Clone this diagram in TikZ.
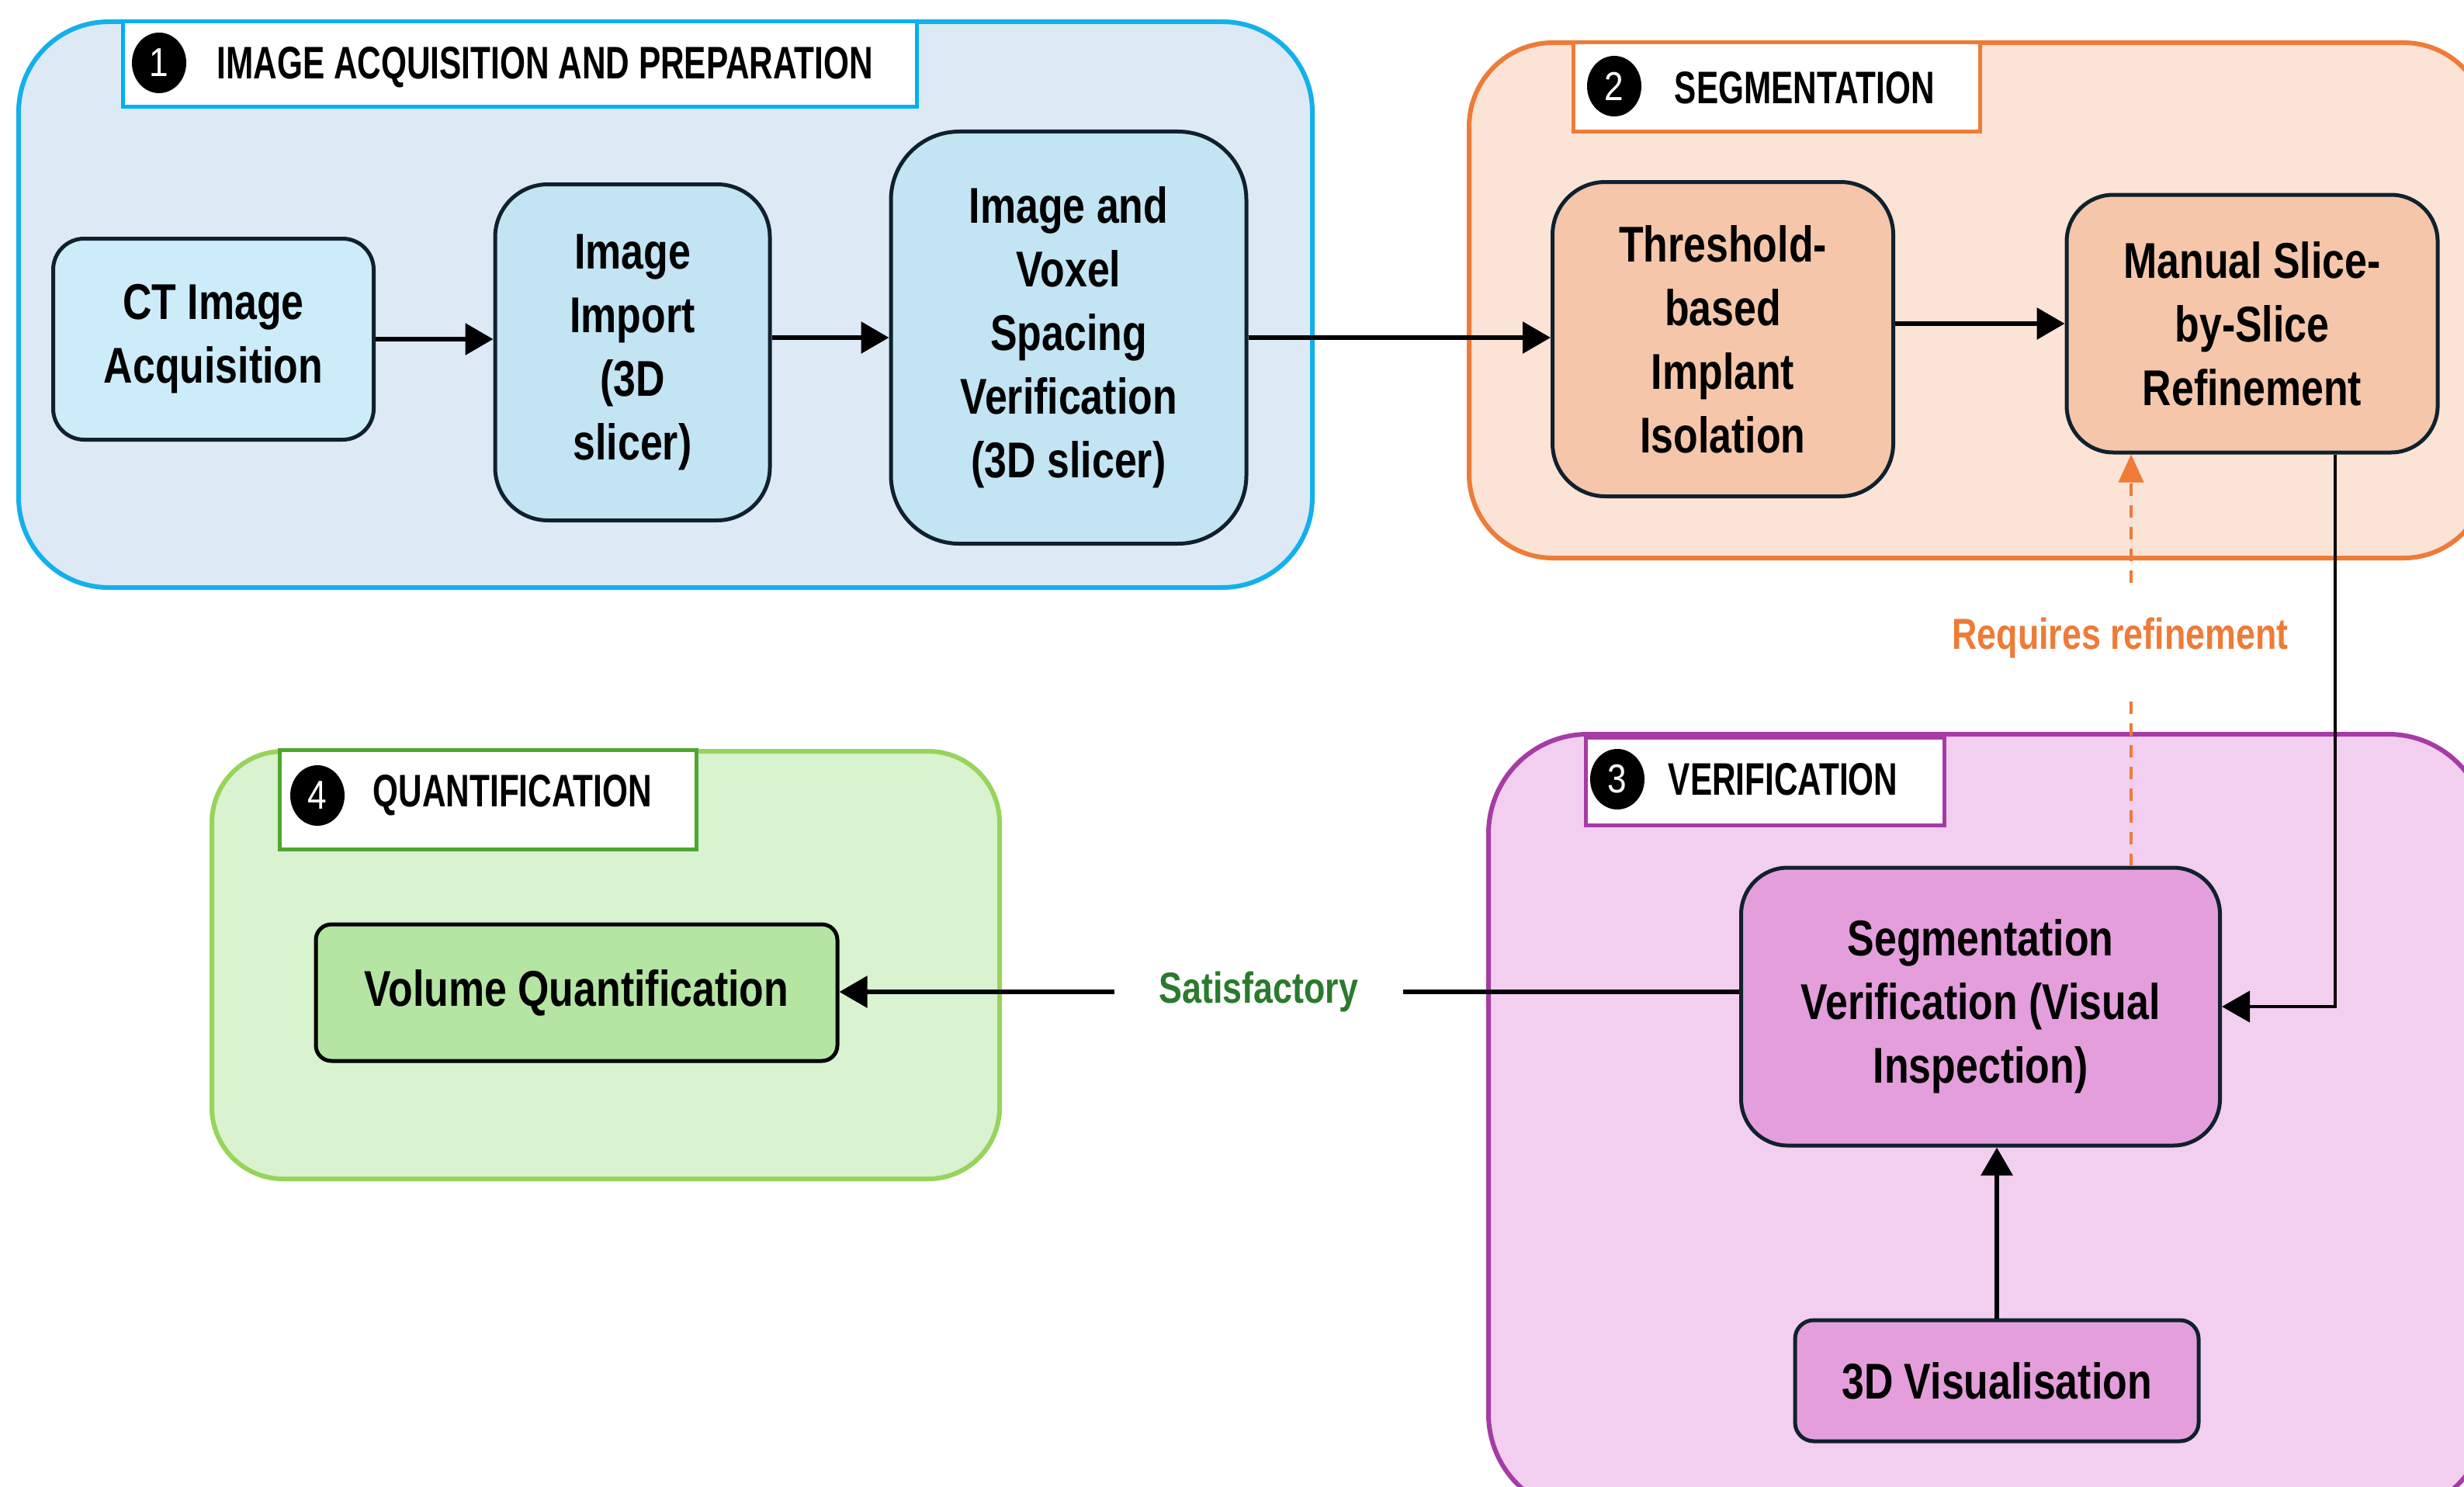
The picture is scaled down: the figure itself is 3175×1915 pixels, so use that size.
\documentclass[tikz,border=0pt]{standalone}
\usepackage{fontspec}
\setmainfont{Liberation Sans}
\newfontfamily\nodefont[FakeStretch=0.80]{Liberation Sans}
\newfontfamily\titlefont[FakeStretch=0.72]{Liberation Sans}
\newfontfamily\numfont[FakeStretch=0.85]{Liberation Sans}
\usetikzlibrary{arrows.meta,shapes.geometric}
\definecolor{gOneFill}{HTML}{DDEAF6}
\definecolor{gOneLine}{HTML}{13B0EC}
\definecolor{tOneLine}{HTML}{00B0F0}
\definecolor{ctFill}{HTML}{CCECFA}
\definecolor{blueFill}{HTML}{C2E4F3}
\definecolor{nodeLine}{HTML}{10212E}
\definecolor{gTwoFill}{HTML}{FBE3D6}
\definecolor{gTwoLine}{HTML}{EE7B37}
\definecolor{orFill}{HTML}{F5C6AA}
\definecolor{gThreeFill}{HTML}{F2CFEE}
\definecolor{gThreeLine}{HTML}{A63BA6}
\definecolor{puFill}{HTML}{E49EDC}
\definecolor{gFourFill}{HTML}{D9F2D0}
\definecolor{gFourLine}{HTML}{97D45A}
\definecolor{tFourLine}{HTML}{4EA72E}
\definecolor{grFill}{HTML}{B4E5A2}
\definecolor{reqCol}{HTML}{EE7B37}
\definecolor{satCol}{HTML}{2A7A2E}
\tikzset{
  group/.style={line width=1.5pt},
  titlebox/.style={line width=1.25pt, fill=white},
  numcirc/.style={ellipse, fill=black, minimum width=17.5pt, minimum height=19.5pt, inner sep=0pt,
     text=white, font=\numfont\fontsize{13pt}{13pt}\selectfont},
  titletext/.style={anchor=west, inner sep=0pt, font=\titlefont\bfseries\fontsize{14.7pt}{16pt}\selectfont},
  proc/.style={draw=nodeLine, line width=1.25pt, align=center, inner sep=0pt,
     font=\nodefont\bfseries\fontsize{16.2pt}{20.5pt}\selectfont},
  flow/.style={line width=1.5pt, -{Triangle[length=9pt,width=10pt]}},
  thin flow/.style={line width=1pt, -{Triangle[length=9pt,width=10pt]}},
  lbl/.style={inner sep=0pt, font=\nodefont\bfseries\fontsize{14pt}{16pt}\selectfont},
}
\begin{document}
\begin{tikzpicture}[x=0.25pt,y=-0.25pt]
\clip (0,0) rectangle (3175,1915);
\fill[white] (0,0) rectangle (3175,1915);

% groups
\draw[group, draw=gOneLine, fill=gOneFill, rounded corners=29pt] (24,28) rectangle (1691,757);
\draw[group, draw=gTwoLine, fill=gTwoFill, rounded corners=27pt] (1893,55) rectangle (3205,719);
\draw[group, draw=gThreeLine, fill=gThreeFill, rounded corners=32pt] (1918,946) rectangle (3205,1950);
\draw[group, draw=gFourLine, fill=gFourFill, rounded corners=23pt] (273,968) rectangle (1288,1519);

% title boxes
\draw[titlebox, draw=tOneLine] (158,28) rectangle (1181,138);
\node[numcirc] (c1) at (205,81) {1};
\node[titletext] (t1) at (279,87) {IMAGE ACQUISITION AND PREPARATION};

\draw[titlebox, draw=gTwoLine] (2027,55) rectangle (2551,170);
\node[numcirc] (c2) at (2080,111) {2};
\node[titletext] (t2) at (2157,113) {SEGMENTATION};

\draw[titlebox, draw=gThreeLine] (2043,950) rectangle (2505,1063);
\node[numcirc] (c3) at (2084,1004) {3};
\node[titletext] (t3) at (2149,1004) {VERIFICATION};

\draw[titlebox, draw=tFourLine] (360,966) rectangle (897,1094);
\node[numcirc] (c4) at (409,1025) {4};
\node[titletext] (t4) at (480,1025) {QUANTIFICATION};

% process nodes
\node[proc, fill=ctFill, rounded corners=10pt, minimum width=103.25pt, minimum height=64.75pt] (ct) at (275,437) {CT Image\\Acquisition};
\node[proc, fill=blueFill, rounded corners=17pt, minimum width=88.5pt, minimum height=108.25pt] (imp) at (815,454) {Image\\Import\\(3D\\slicer)};
\node[proc, fill=blueFill, rounded corners=22pt, minimum width=114.5pt, minimum height=132.75pt] (vox) at (1377,435) {Image and\\Voxel\\Spacing\\Verification\\(3D slicer)};
\node[proc, fill=orFill, rounded corners=17pt, minimum width=109.75pt, minimum height=101.25pt] (thr) at (2220,437) {Threshold-\\based\\Implant\\Isolation};
\node[proc, fill=orFill, rounded corners=15pt, minimum width=119.5pt, minimum height=83pt] (man) at (2902,417) {Manual Slice-\\by-Slice\\Refinement};
\node[proc, fill=puFill, rounded corners=15pt, minimum width=154.25pt, minimum height=89.5pt] (sv) at (2552,1297) {Segmentation\\Verification (Visual\\Inspection)};
\node[proc, fill=puFill, rounded corners=6pt, minimum width=130pt, minimum height=39pt] (vis) at (2573,1779) {3D Visualisation};
\node[proc, draw=black, fill=grFill, rounded corners=5pt, minimum width=168pt, minimum height=44pt] (vol) at (743,1279) {Volume Quantification};

% labels
\node[lbl, text=reqCol, minimum height=35pt] (req) at (2732,822) {Requires refinement};
\node[lbl, text=satCol, minimum width=92.5pt] (sat) at (1622,1278) {Satisfactory};

\coordinate (rx) at (2746,0);
\coordinate (mx) at (3009,0);

% connectors
\draw[flow] (ct.east) -- (ct.east -| imp.west);
\draw[flow] (imp.east |- vox) -- (vox.west);
\draw[flow] (vox.east) -- (vox.east -| thr.west);
\draw[flow] (thr.east |- man) -- (man.west);
\draw[thin flow] (man.south -| mx) |- (sv.east);
\draw[flow] (vis.north) -- (vis.north |- sv.south);
\draw[line width=1.4pt] (sv.west |- sat.east) -- (sat.east);
\draw[flow] (sat.west) -- (vol.east |- sat.west);
\draw[line width=1pt, draw=reqCol, dash pattern=on 4pt off 3pt] (sv.north -| rx) -- (req.south -| rx);
\draw[line width=1pt, draw=reqCol, dash pattern=on 4pt off 3pt, -{Triangle[length=9pt,width=8pt]}, fill=reqCol] (req.north -| rx) -- (man.south -| rx);
\end{tikzpicture}
\end{document}
